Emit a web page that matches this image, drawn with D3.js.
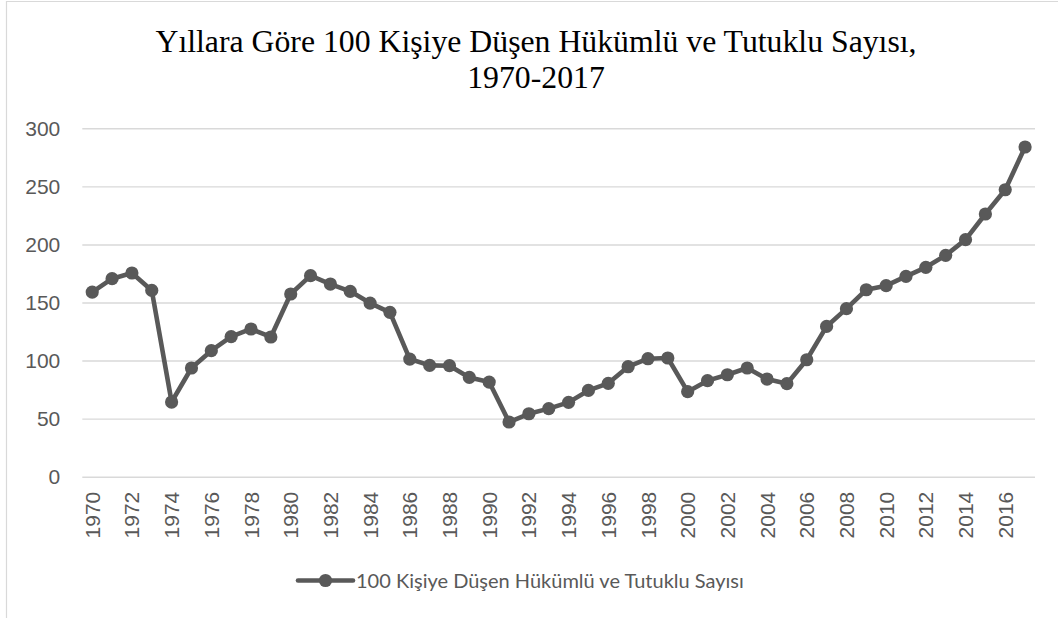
<!DOCTYPE html>
<html>
  <head>
    <meta charset="utf-8">
    <title>Hükümlü ve Tutuklu Sayısı</title>
    <script src="https://d3js.org/d3.v7.min.js"></script>
    <style>
      body {
        margin: 0;
        background: #fff;
      }
      svg {
        display: block;
        font-family: "Liberation Sans", Arial, sans-serif;
      }
    </style>
  </head>
  <body>
    <div id="chart"></div>
    <script>

      // years on the category axis
      const years = d3.range(1970, 2018);

      // values, one per year
      const values = [
        159, 170.5, 175.4, 160.4, 64.3, 93.6, 108.5, 120.6, 127.2, 120.3,
        157.3, 173.1, 165.9, 159.6, 149.5, 141.5, 101.3, 95.9, 95.6, 85.5,
        81.5, 47.1, 54.2, 58.6, 64, 74.3, 80.4, 94.7, 101.6, 102.2,
        73.2, 82.7, 87.8, 93.6, 84.1, 80.1, 100.7, 129.4, 144.7, 161,
        164.5, 172.5, 180.3, 190.6, 204.1, 226.2, 247.1, 283.9
      ];

      const yTicks = [0, 50, 100, 150, 200, 250, 300];
      const xTickLabels = years.filter(y => y % 2 === 0);

      const titleLines = ["Yıllara Göre 100 Kişiye Düşen Hükümlü ve Tutuklu Sayısı,", "1970-2017"];
      const seriesName = "100 Kişiye Düşen Hükümlü ve Tutuklu Sayısı";

      const width = 1058;
      const height = 618;
      const plot = {left: 82.3, right: 1035, top: 128.3, bottom: 476.7};
      const ink = "#595959";

      const data = years.map((y, i) => ({year: y, value: values[i]}));

      const svg = d3.select("#chart")
        .append("svg")
        .attr("width", width)
        .attr("height", height);

      // chart area border (only left and top show in the picture)
      svg.append("path")
        .attr("d", `M6.5,${height} V1.5 H${width}`)
        .attr("fill", "none")
        .attr("stroke", "#d9d9d9")
        .attr("stroke-width", 1.2);

      const x = d3.scaleBand()
        .domain(years)
        .range([plot.left, plot.right]);

      const y = d3.scaleLinear()
        .domain([0, 300])
        .range([plot.bottom, plot.top]);

      const cx = d => x(d) + x.bandwidth() / 2;

      // title
      svg.append("text")
        .attr("x", 536)
        .attr("y", 52)
        .attr("text-anchor", "middle")
        .style("font-family", "'Liberation Serif', 'Times New Roman', serif")
        .style("font-size", "31.75px")
        .attr("fill", "#000")
        .selectAll("tspan")
        .data(titleLines)
        .enter().append("tspan")
        .attr("x", 536)
        .attr("dy", (d, i) => i === 0 ? 0 : 36)
        .text(d => d);

      // gridlines + y labels
      const yAxis = d3.axisLeft(y)
        .tickValues(yTicks)
        .tickSize(-(plot.right - plot.left))
        .tickPadding(22);

      svg.append("g")
        .attr("transform", `translate(${plot.left},0)`)
        .call(yAxis)
        .call(g => g.select(".domain").remove())
        .call(g => g.selectAll(".tick line").attr("stroke", "#d9d9d9").attr("stroke-width", 1.4))
        .call(g => g.selectAll(".tick text")
          .attr("fill", ink)
          .style("font-size", "21px")
          .style("font-family", "'Liberation Sans', Arial, sans-serif"));

      // x labels, rotated
      const xAxis = d3.axisBottom(x)
        .tickValues(xTickLabels)
        .tickSize(0);

      svg.append("g")
        .attr("transform", `translate(0,${plot.bottom})`)
        .call(xAxis)
        .call(g => g.select(".domain").remove())
        .call(g => g.selectAll(".tick text")
          .attr("fill", ink)
          .style("font-size", "21px")
          .style("font-family", "'Liberation Sans', Arial, sans-serif")
          .attr("text-anchor", "end")
          .attr("transform", "rotate(-90)")
          .attr("x", -15)
          .attr("y", 0)
          .attr("dy", "0.36em"));

      // the line and markers
      const line = d3.line()
        .x(d => cx(d.year))
        .y(d => y(d.value));

      svg.append("path")
        .datum(data)
        .attr("d", line)
        .attr("fill", "none")
        .attr("stroke", ink)
        .attr("stroke-width", 4.6)
        .attr("stroke-linejoin", "round");

      svg.append("g")
        .selectAll("circle")
        .data(data)
        .enter().append("circle")
        .attr("cx", d => cx(d.year))
        .attr("cy", d => y(d.value))
        .attr("r", 6.6)
        .attr("fill", ink);

      // legend
      const legend = svg.append("g").attr("transform", "translate(0,580.5)");
      legend.append("line")
        .attr("x1", 298).attr("x2", 353)
        .attr("stroke", ink)
        .attr("stroke-width", 4.6)
        .attr("stroke-linecap", "round");
      legend.append("circle")
        .attr("cx", 325.5)
        .attr("r", 6.6)
        .attr("fill", ink);
      legend.append("text")
        .attr("x", 356)
        .attr("dy", "0.35em")
        .attr("fill", ink)
        .style("font-family", "Lato, 'Noto Sans', sans-serif")
        .style("font-size", "20px")
        .text(seriesName);

    </script>
  </body>
</html>
